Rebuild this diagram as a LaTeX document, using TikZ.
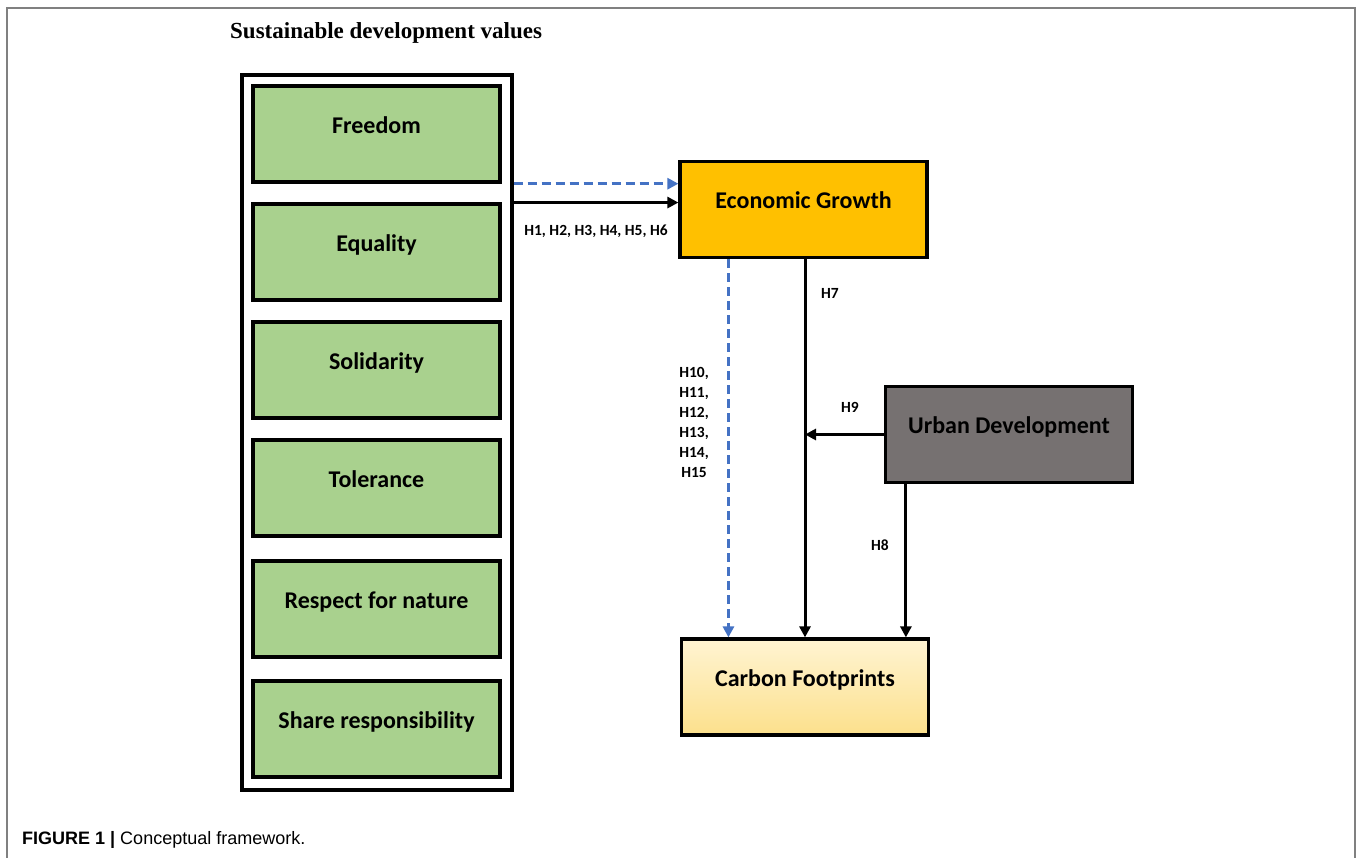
\documentclass[tikz,border=0pt]{standalone}
\usepackage{fontspec}
\setmainfont{Carlito}
\newfontfamily\titlefont{Liberation Serif}
\newfontfamily\capfont{Liberation Sans}
\usetikzlibrary{arrows.meta,calc,shadings}
\definecolor{valgreen}{HTML}{A9D18E}
\definecolor{egold}{HTML}{FFC000}
\definecolor{urbgray}{HTML}{767171}
\definecolor{dashblue}{HTML}{4472C4}
\definecolor{cftop}{HTML}{FFF4D2}
\definecolor{cfbot}{HTML}{FCE08C}
\definecolor{framegray}{HTML}{808080}
\tikzset{
  boxbase/.style={draw=black, line width=3.2pt, inner sep=0pt, minimum width=247pt, minimum height=96pt,
    font=\fontsize{24}{28}\selectfont\bfseries, text height=12pt, text depth=13pt},
  valbox/.style={boxbase, fill=valgreen},
  blackarr/.style={draw=black, line width=3pt, -{Triangle[length=11pt,width=11pt]}},
  bluearr/.style={draw=dashblue, line width=3pt, dash pattern=on 9pt off 5pt, -{Triangle[length=11pt,width=11pt]}},
  hlabel/.style={font=\fontsize{15.5}{20}\selectfont\bfseries, inner sep=0pt}
}
\begin{document}
\begin{tikzpicture}[x=1pt,y=-1pt]
\useasboundingbox (0,0) rectangle (1358,858);
\fill[white] (0,0) rectangle (1358,858);
\draw[framegray, line width=2pt] (7,858) -- (7,8) -- (1355,8) -- (1355,858);

\node[anchor=base west, inner sep=0pt, font=\titlefont\fontsize{23}{27}\selectfont\bfseries] (title) at (230,39) {Sustainable development values};

\node[draw=black, line width=3.2pt, minimum width=270pt, minimum height=715pt, inner sep=0pt] (outer) at (377,432.5) {};

\node[valbox] (v1) at (376.5,134) {Freedom};
\node[valbox] (v2) at (376.5,252) {Equality};
\node[valbox] (v3) at (376.5,370) {Solidarity};
\node[valbox] (v4) at (376.5,488) {Tolerance};
\node[valbox] (v5) at (376.5,609) {Respect for nature};
\node[valbox] (v6) at (376.5,729) {Share responsibility};

\node[boxbase, fill=egold] (eg) at (803.5,209.5) {Economic Growth};
\node[boxbase, fill=urbgray] (ud) at (1009,434.5) {Urban Development};
\node[boxbase, top color=cftop, bottom color=cfbot, draw=black] (cf) at (805,687) {Carbon Footprints};

\coordinate (ega) at ($(eg.north west)!0.24!(eg.south west)$);
\coordinate (egc) at ($(eg.north west)!0.43!(eg.south west)$);
\draw[bluearr] (outer.east |- ega) -- (ega);
\draw[blackarr] (outer.east |- egc) -- (egc);

\coordinate (egb) at ($(eg.south west)!0.2!(eg.south east)$);
\draw[bluearr] (egb) -- (egb |- cf.north);
\draw[blackarr] (cf.north |- eg.south) -- (cf.north);
\draw[blackarr] (ud.west) -- (ud.west -| cf.north);
\coordinate (udb) at ([xshift=22pt]ud.south west);
\draw[blackarr] (udb) -- (udb |- cf.north);

\node[hlabel] (h16) at (596,231) {H1, H2, H3, H4, H5, H6};
\node[hlabel] (h7) at (830,293) {H7};
\node[hlabel] (h9) at (850,407) {H9};
\node[hlabel] (h8) at (880,545) {H8};
\node[hlabel, align=center] (h1015) at (694,422) {H10,\\H11,\\H12,\\H13,\\H14,\\H15};

\node[anchor=base west, inner sep=0pt, font=\capfont\fontsize{18}{21}\selectfont] (cap) at (22,844) {\textbf{FIGURE 1 |} Conceptual framework.};
\end{tikzpicture}
\end{document}
